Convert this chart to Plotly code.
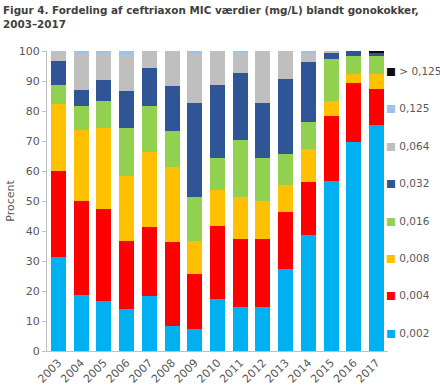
import plotly.graph_objects as go

years = [str(y) for y in range(2003, 2018)]
series_names = ["0,002", "0,004", "0,008", "0,016", "0,032", "0,064", "0,125", "> 0,125"]
colors = ["#00B0F0", "#FF0000", "#FFC000", "#92D050", "#2F5597", "#BFBFBF", "#9DC3E6", "#0D0D0D"]

v_0002 = [31.2, 18.8, 16.6, 13.9, 18.5, 8.5, 7.2, 17.2, 14.6, 14.8, 27.5, 38.8, 56.8, 69.8, 75.5]
v_0004 = [28.7, 31.1, 30.6, 22.9, 23.0, 27.7, 18.6, 24.6, 22.6, 22.7, 19.0, 17.4, 21.7, 19.7, 12.0]
v_0008 = [22.6, 23.7, 27.3, 21.7, 25.0, 25.0, 11.0, 12.0, 14.3, 12.5, 9.0, 11.0, 5.0, 2.7, 5.0]
v_0016 = [6.3, 8.0, 9.0, 16.0, 15.3, 12.0, 14.4, 10.4, 18.7, 14.2, 10.3, 9.0, 13.7, 6.3, 6.0]
v_0032 = [8.0, 5.3, 7.0, 12.3, 12.7, 15.1, 31.6, 24.6, 22.5, 18.6, 25.0, 20.0, 2.1, 1.5, 1.0]
v_0064 = [3.2, 12.5, 8.8, 11.9, 5.2, 11.7, 16.5, 11.2, 6.6, 16.9, 8.9, 3.1, 0.7, 0.0, 0.0]
v_0125 = [0.0, 0.7, 0.7, 1.3, 0.3, 0.0, 0.7, 0.0, 0.7, 0.3, 0.3, 0.7, 0.0, 0.0, 0.0]
v_gt0125 = [0.0, 0.0, 0.0, 0.0, 0.0, 0.0, 0.0, 0.0, 0.0, 0.0, 0.0, 0.0, 0.0, 0.0, 0.5]

all_values = [v_0002, v_0004, v_0008, v_0016, v_0032, v_0064, v_0125, v_gt0125]

W, H = 440, 390
ML, MR, MT, MB = 47, 52, 51, 39
plot_h = H - MT - MB
plot_w = W - ML - MR

fig = go.Figure()
for name, vals, col in zip(series_names, all_values, colors):
    fig.add_trace(go.Bar(x=years, y=vals, name=name, marker=dict(color=col, line=dict(width=0)),
                         showlegend=False, hoverinfo="skip"))

font_family = "DejaVu Sans, Verdana, sans-serif"
text_col = "#595959"

annotations = []
# Title
annotations.append(dict(
    text="<b>Figur 4. Fordeling af ceftriaxon MIC værdier (mg/L) blandt gonokokker,<br>2003–2017</b>",
    xref="paper", yref="paper", x=(1 - ML) / plot_w, y=1 + (MT - 2) / plot_h,
    xanchor="left", yanchor="top", align="left", showarrow=False,
    font=dict(family=font_family, size=10.4, color="#404040")))

# Legend (top item is the last series)
legend_top_px = 71
legend_step_px = 37.4
for k, (name, col) in enumerate(zip(reversed(series_names), reversed(colors))):
    y_px = legend_top_px + k * legend_step_px
    annotations.append(dict(
        text=f"<span style='color:{col}'>■</span> {name}",
        xref="paper", yref="paper", x=(384 - ML) / plot_w, y=1 - (y_px - MT) / plot_h,
        xanchor="left", yanchor="middle", showarrow=False,
        font=dict(family=font_family, size=10.5, color=text_col)))

fig.update_layout(
    width=W, height=H,
    barmode="stack", bargap=0.34,
    plot_bgcolor="white", paper_bgcolor="white",
    margin=dict(l=ML, r=MR, t=MT, b=MB, autoexpand=False),
    font=dict(family=font_family, size=11, color=text_col),
    showlegend=False,
    annotations=annotations,
    xaxis=dict(type="category", tickangle=-45, showline=True, linecolor="#BFBFBF", linewidth=1,
               ticks="", automargin=False, tickfont=dict(size=11, color=text_col)),
    yaxis=dict(range=[0, 100], dtick=10, showgrid=False, showline=True, linecolor="#BFBFBF",
               linewidth=1, ticks="outside", ticklen=4, tickcolor="#BFBFBF", automargin=False,
               title=dict(text="Procent", standoff=1, font=dict(size=11, color=text_col)),
               tickfont=dict(size=11, color=text_col), zeroline=False),
)

fig.write_html("out.html", config={"displayModeBar": False},
               post_script="document.body.style.margin='0';")
